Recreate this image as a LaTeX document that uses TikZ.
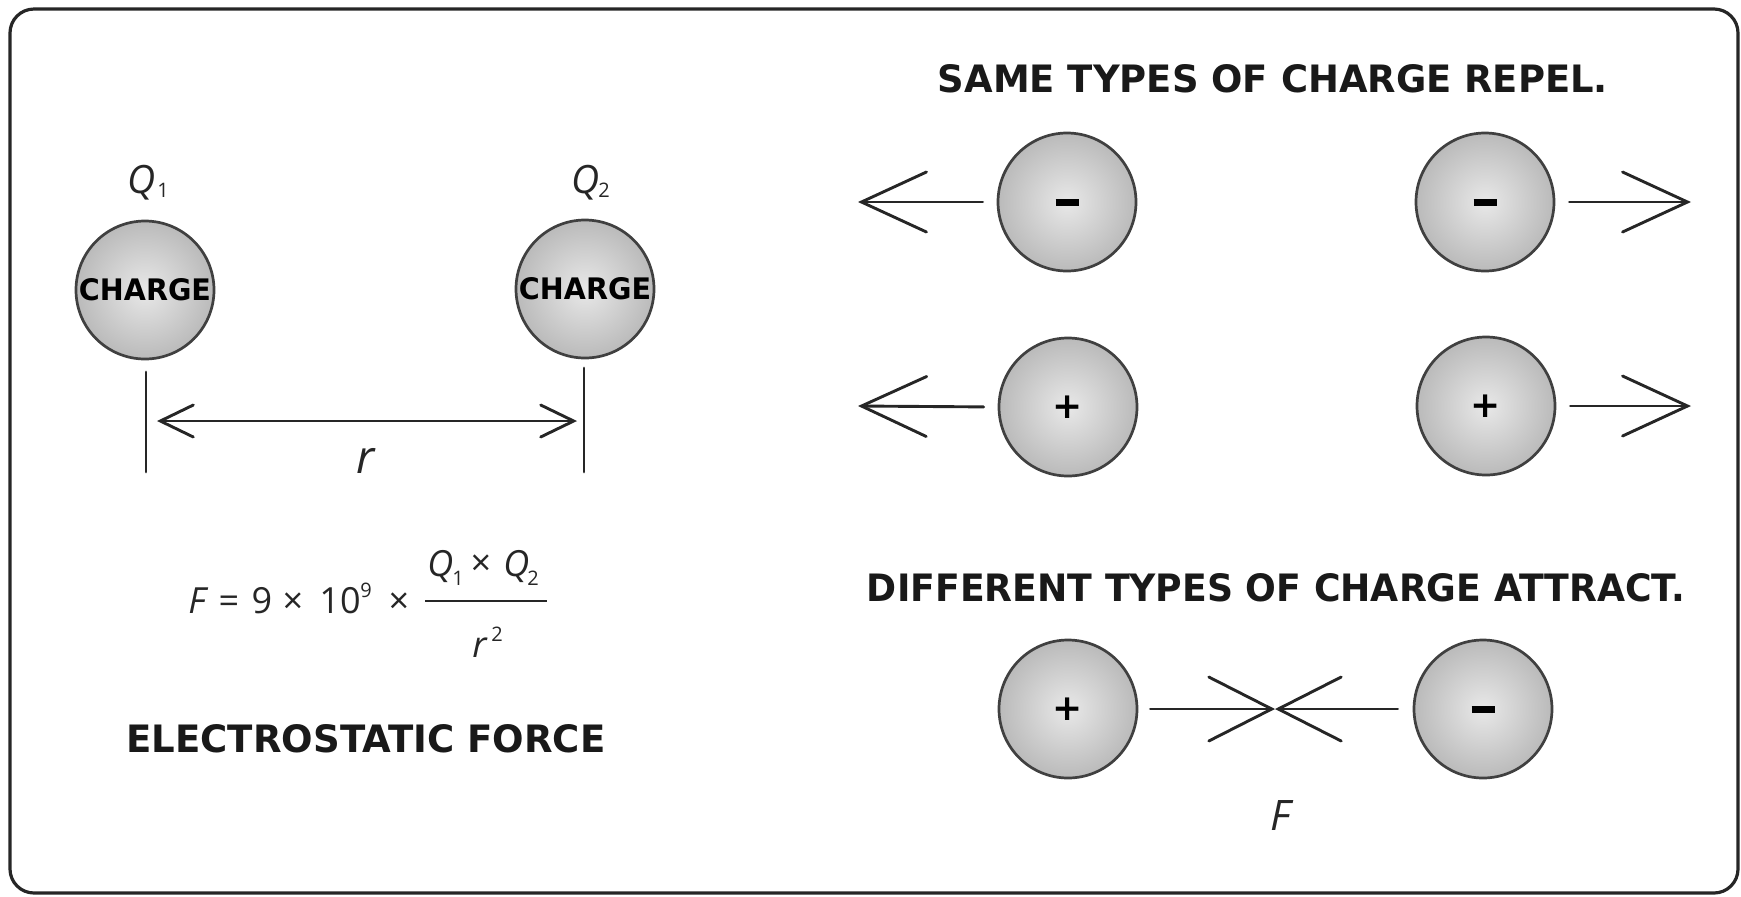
\documentclass[tikz,border=0pt]{standalone}
\usepackage{fontspec}
\usepackage{graphicx}
\newfontfamily\comic{DejaVu Sans}
\newfontfamily\ff{Open Sans}
\usetikzlibrary{arrows.meta}
\tikzset{
  frame/.style={draw=black!85, line width=1.6pt, rounded corners=12pt},
  chg/.style={circle, minimum size=69pt, inner sep=0pt, draw=black!75, line width=1.35pt,
              inner color=black!9, outer color=black!27},
  hd/.style={inner sep=0pt, text=black!90},
  fml/.style={inner sep=0pt, text=black!85, font=\ff\fontsize{18}{18}\selectfont},
  sml/.style={inner sep=0pt, text=black!85, font=\ff\fontsize{10}{10}\selectfont},
  ln/.style={draw=black!85, line width=1.45pt, line cap=round},
  bigbarb/.style={ln, -{Straight Barb[length=32.5pt, width=30pt, line cap=round]}},
  midbarb/.style={ln, -{Straight Barb[length=31.5pt, width=32pt, line cap=round]}},
  smallbarb/.style={ln, {Straight Barb[length=16.5pt, width=16pt, line cap=round]}-{Straight Barb[length=16.5pt, width=16pt, line cap=round]}},
}
\newcommand{\minussign}{\rule{11.5pt}{3.5pt}}
\newcommand{\plussign}{{\comic\bfseries\fontsize{18}{18}\selectfont +}}
\begin{document}
\begin{tikzpicture}[x=0.5pt, y=-0.5pt]
\useasboundingbox (0,0) rectangle (1741,896);
\draw[frame] (10,9) rectangle (1738,893);

% ---------- left panel ----------
\node[chg] (q1c) at (145,290) {\resizebox{66pt}{11pt}{\comic\bfseries CHARGE}};
\node[chg] (q2c) at (585,289) {\resizebox{66pt}{11pt}{\comic\bfseries CHARGE}};

\node[fml, font=\ff\fontsize{19.5}{19.5}\selectfont, anchor=base west] (q1l) at (127,193) {\itshape Q};
\node[sml, anchor=base west] (q1s) at (157,197) {1};
\node[fml, font=\ff\fontsize{19.5}{19.5}\selectfont, anchor=base west] (q2l) at (571,193) {\itshape Q};
\node[sml, anchor=base west] (q2s) at (598,197) {2};

\coordinate (t1a) at (146,372); \coordinate (t1b) at (146,472);
\coordinate (t2a) at (584,368); \coordinate (t2b) at (584,472);
\draw[ln] (t1a) -- (t1b);
\draw[ln] (t2a) -- (t2b);
\coordinate (r1) at (146,421); \coordinate (r2) at (584,421);
\draw[smallbarb, shorten <=5.5pt, shorten >=3.5pt] (r1) -- (r2);
\node[fml, font=\ff\fontsize{23}{23}\selectfont, anchor=base] (rl) at (366,473) {\itshape r};

% formula
\node[fml, anchor=base west] (fF) at (188,613) {\itshape F};
\node[fml, anchor=base] (feq) at (229,613) {=};
\node[fml, anchor=base] (f9) at (262,613) {9};
\node[fml, anchor=base] (fx1) at (293,613) {×};
\node[fml, anchor=base] (f10) at (340,613) {10};
\node[sml, anchor=base west] (fe9) at (360,597) {9};
\node[fml, anchor=base] (fx2) at (399,613) {×};
\coordinate (bar1) at (425,601); \coordinate (bar2) at (547,601);
\draw[draw=black!85, line width=1.3pt] (bar1) -- (bar2);
\node[fml, anchor=base west] (nQa) at (427,576) {\itshape Q};
\node[sml, anchor=base west] (nsa) at (452,585) {1};
\node[fml, anchor=base] (nxm) at (481,575) {×};
\node[fml, anchor=base west] (nQb) at (503,576) {\itshape Q};
\node[sml, anchor=base west] (nsb) at (527,585) {2};
\node[fml, anchor=base west] (dr) at (472,657) {\itshape r};
\node[sml, anchor=base west] (ds) at (491,641) {2};

\node[hd] (nel) at (366,739) {\resizebox{239.5pt}{14pt}{\comic\bfseries ELECTROSTATIC FORCE}};

% ---------- right panel ----------
\node[hd] (nrep) at (1273,79) {\resizebox{335pt}{14pt}{\comic\bfseries SAME TYPES OF CHARGE REPEL.}};

\node[chg] (cm1) at (1067,202) {\minussign};
\node[chg] (cm2) at (1485,202) {\minussign};
\node[chg] (cp1) at (1068,407) {\plussign};
\node[chg] (cp2) at (1486,406) {\plussign};

\coordinate (tl1) at (858,202);
\coordinate (tr1) at (1691,202);
\coordinate (tl2) at (858,406);
\coordinate (tr2) at (1691,406);
\draw[bigbarb, shorten <=7pt] (cm1.west) -- (tl1);
\draw[bigbarb, shorten <=7pt] (cm2.east) -- (tr1);
\draw[bigbarb, shorten <=7pt] (cp1.west) -- (tl2);
\draw[bigbarb, shorten <=7pt] (cp2.east) -- (tr2);

\node[hd] (natt) at (1276,588) {\resizebox{409pt}{14pt}{\comic\bfseries DIFFERENT TYPES OF CHARGE ATTRACT.}};

\node[chg] (ap) at (1068,709) {\plussign};
\node[chg] (am) at (1483,709) {\minussign};
\coordinate (xm) at (1275,709);
\draw[midbarb, shorten <=6pt] (ap.east) -- (xm);
\draw[midbarb, shorten <=7.5pt] (am.west) -- (xm);
\node[fml, font=\ff\fontsize{21}{21}\selectfont, anchor=base] (fl) at (1281,830) {\itshape F};
\end{tikzpicture}
\end{document}
